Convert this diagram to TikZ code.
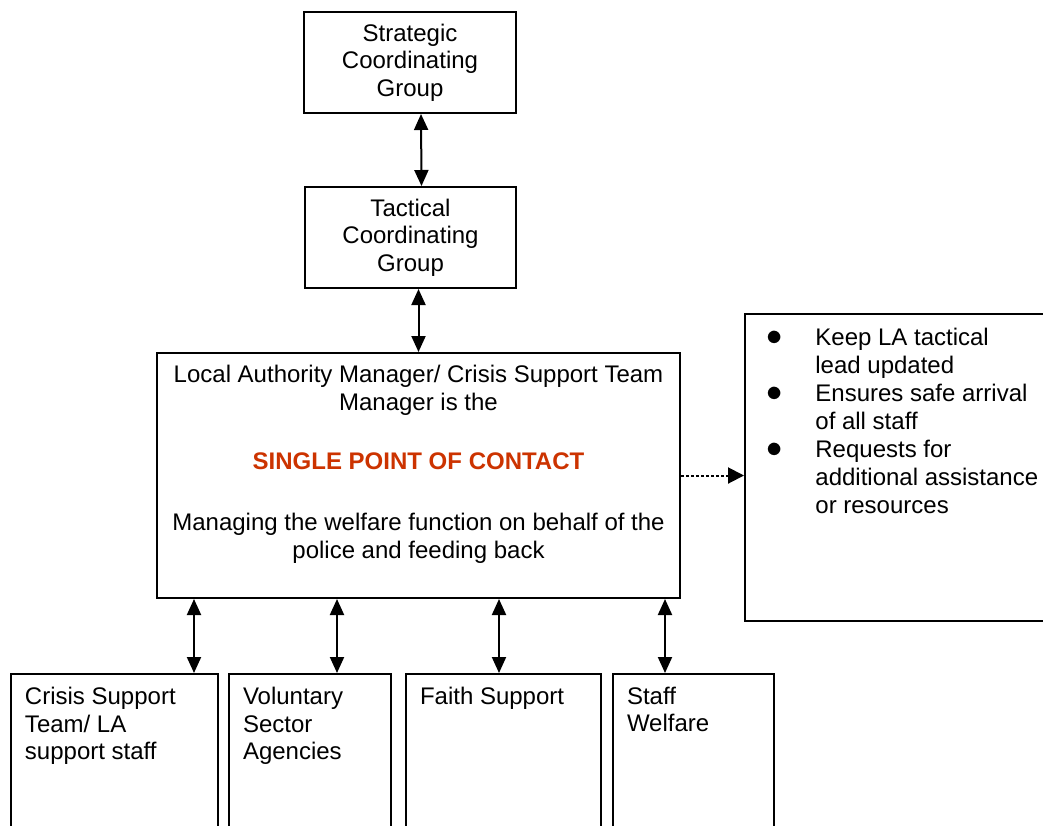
\documentclass[tikz,border=0pt]{standalone}
\usepackage{fontspec}
\setmainfont{Liberation Sans}
\usetikzlibrary{arrows.meta}
\definecolor{spocred}{RGB}{204,51,0}

\begin{document}
\begin{tikzpicture}[x=0.5pt,y=-0.5pt,
  font=\fontsize{12}{13.8}\selectfont,
  box/.style={draw,line width=1pt,align=center,inner sep=0pt},
  botbox/.style={draw,line width=1pt,anchor=north west,inner xsep=7pt,inner ysep=6.5pt},
  link/.style={line width=1pt,{Triangle[length=8pt,width=7pt]}-{Triangle[length=8pt,width=7pt]}}]
\useasboundingbox (0,0) rectangle (1043,825);

 % command chain
 \node[box,minimum width=106pt,minimum height=50.5pt] (scg) at (410,62.5) {Strategic\\Coordinating\\Group};
 \node[box,minimum width=105.5pt,minimum height=50.5pt] (tcg) at (410.5,237.5) {Tactical\\Coordinating\\Group};
 \node[box,minimum width=261.5pt,minimum height=122.5pt] (spoc) at (418.5,475.5)
   {Local Authority Manager/ Crisis Support Team\\Manager is the\\[15.7pt]
    \textbf{\color{spocred}SINGLE POINT OF CONTACT}\\[16.7pt]
    Managing the welfare function on behalf of the\\police and feeding back\\\mbox{}};

 % duties
 \node[draw,line width=1pt,anchor=north west,minimum width=170pt,minimum height=153.5pt] (tasks) at (744,313) {};
 \node[anchor=north west,inner sep=0pt] (tasklist) at (766,325) {%
   \renewcommand{\arraystretch}{1.015}%
   \begin{tabular}{@{}p{24.5pt}@{}l@{}}
   \scalebox{1.35}{$\bullet$} & Keep LA tactical\\
    & lead updated\\
   \scalebox{1.35}{$\bullet$} & Ensures safe arrival\\
    & of all staff\\
   \scalebox{1.35}{$\bullet$} & Requests for\\
    & additional assistance\\
    & or resources
   \end{tabular}};

 % support services
 \node[botbox] (csteam) at (10,673) {\parbox[t][80pt][t]{89.5pt}{\raggedright Crisis Support\\Team/ LA\\support staff}};
 \node[botbox] (vsa) at (228,673) {\parbox[t][80pt][t]{67pt}{\raggedright Voluntary\\Sector\\Agencies}};
 \node[botbox] (faith) at (405,673) {\parbox[t][80pt][t]{83.5pt}{\raggedright Faith Support}};
 \node[botbox] (welfare) at (612,673) {\parbox[t][80pt][t]{66.5pt}{\raggedright Staff\\Welfare}};

 \draw[link] ([xshift=5.5pt]scg.south) -- ([xshift=5.5pt]tcg.north);
 \draw[link] (tcg.south -| spoc.north) -- (spoc.north);

 \coordinate (c1) at ([xshift=39.75pt]csteam.north);
 \coordinate (c2) at ([xshift=13.5pt]vsa.north);
 \coordinate (c3) at ([xshift=-2.25pt]faith.north);
 \coordinate (c4) at ([xshift=-14.25pt]welfare.north);
 \draw[link] (c1 |- spoc.south) -- (c1);
 \draw[link] (c2 |- spoc.south) -- (c2);
 \draw[link] (c3 |- spoc.south) -- (c3);
 \draw[link] (c4 |- spoc.south) -- (c4);

 \draw[line width=1pt,dash pattern=on 1.5pt off 1pt,-{Triangle[length=8pt,width=8pt]}] (spoc.east) -- (spoc.east -| tasks.west);

\end{tikzpicture}
\end{document}
